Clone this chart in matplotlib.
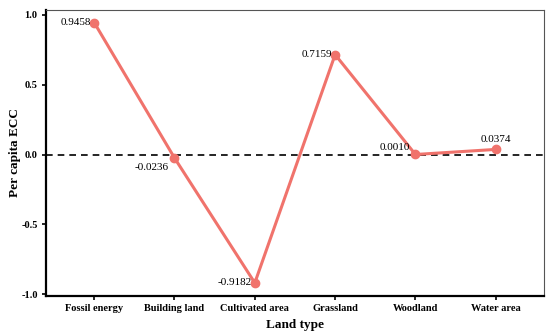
import matplotlib
matplotlib.use("Agg")
import matplotlib.pyplot as plt

categories = ["Fossil energy", "Building land", "Cultivated area", "Grassland", "Woodland", "Water area"]
values = [0.9458, -0.0236, -0.9182, 0.7159, 0.0010, 0.0374]
labels = ["0.9458", "-0.0236", "-0.9182", "0.7159", "0.0010", "0.0374"]
yticks = [-1.0, -0.5, 0.0, 0.5, 1.0]

plt.rcParams['font.family'] = ['Liberation Serif', 'DejaVu Serif']

fig = plt.figure(figsize=(5.5, 3.35), dpi=100)
ax = fig.add_axes([0.0836, 0.1164, 0.9054, 0.8536])

x = list(range(1, len(categories) + 1))
color = "#F0736C"
ax.axhline(0, color="black", linestyle=(0, (4, 3)), linewidth=1.2, zorder=1)
ax.plot(x, values, color=color, linewidth=2.2, marker="o", markersize=6, zorder=3)

# offsets in points (dx, dy), ha, va
offs = [(-2, 0, "right", "center"),
        (-4, -7, "right", "center"),
        (-2, 0, "right", "center"),
        (-2, 0, "right", "center"),
        (-4, 5, "right", "center"),
        (0, 7, "center", "center")]
for xi, v, lab, (dx, dy, ha, va) in zip(x, values, labels, offs):
    ax.annotate(lab, (xi, v), xytext=(dx, dy), textcoords="offset points",
                ha=ha, va=va, fontsize=8, color="black", zorder=4)

ax.set_xlim(0.4, 6.6)
ax.set_ylim(-1.012, 1.035)
ax.set_xticks(x)
ax.set_xticklabels(categories, fontsize=7.5, fontweight="bold")
ax.set_yticks(yticks)
ax.set_yticklabels([f"{t:.1f}" for t in yticks], fontsize=7.5, fontweight="bold")
ax.set_xlabel("Land type", fontsize=9.5, fontweight="bold", labelpad=4)
ax.set_ylabel("Per capita ECC", fontsize=9.5, fontweight="bold", labelpad=0)

for s in ["left", "bottom"]:
    ax.spines[s].set_linewidth(1.6)
    ax.spines[s].set_color("black")
for s in ["top", "right"]:
    ax.spines[s].set_linewidth(0.8)
    ax.spines[s].set_color("#555555")
ax.tick_params(axis="both", length=3, width=1.2, color="black", pad=3)

fig.savefig("out.png", dpi=100)
